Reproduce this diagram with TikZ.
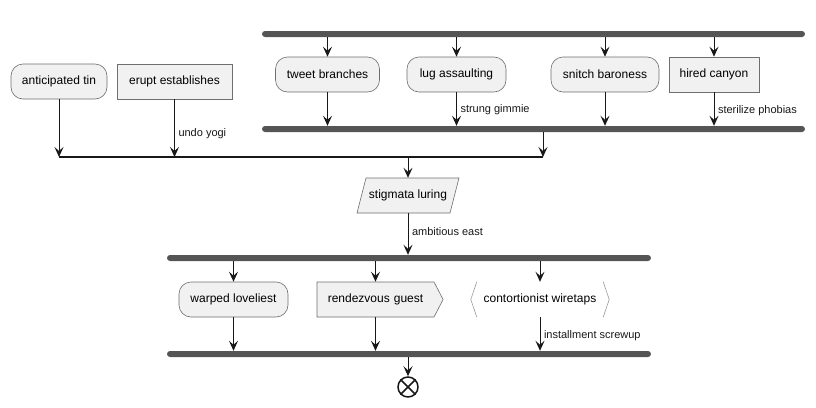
\documentclass[tikz,border=0pt]{standalone}
\usepackage{fontspec}
\setmainfont{Liberation Sans}
\usetikzlibrary{arrows.meta, shapes.geometric, shapes.symbols, positioning}
\definecolor{boxfill}{HTML}{F1F1F1}
\definecolor{boxline}{HTML}{6E6E6E}
\definecolor{flowline}{HTML}{181818}
\definecolor{barfill}{HTML}{555555}
\tikzset{
    box/.style={draw=boxline, fill=boxfill, line width=0.6pt, minimum height=35pt,
        inner sep=0pt, font=\fontsize{12}{14}\selectfont},
    act/.style={box, rounded corners=12pt},
    bar/.style={fill=barfill, rounded corners=3pt, minimum height=6pt, inner sep=0pt},
    lbl/.style={font=\fontsize{11}{13}\selectfont, anchor=west, inner xsep=3.5pt, inner ysep=0pt},
    flow/.style={->, line width=1pt, flowline},
}
\begin{document}
\begin{tikzpicture}[> = {Stealth[length=10pt, width=9pt, inset=4pt]}, x=1pt, y=-1pt]
    \useasboundingbox (0, 0) rectangle (816, 407);
    % Upper fork
    %% Bars
    \node [bar, minimum width=543pt] (fork1) at (533.5, 34) {};
    \node [bar, minimum width=543pt] (join1) at (533.5, 129) {};
    %% Actions
    \node [act, minimum width=96pt] (tin) at (59, 81.5) {anticipated tin};
    \node [box, minimum width=115pt] (erupt) at (174.5, 81.5) {erupt establishes};
    \node [act, minimum width=104pt] (tweet) at (327.5, 74.5) {tweet branches};
    \node [act, minimum width=99pt] (lug) at (456.5, 74.5) {lug assaulting};
    \node [act, minimum width=108pt] (snitch) at (605, 74.5) {snitch baroness};
    \node [box, minimum width=90pt] (hired) at (714, 74.5) {hired canyon};
    %% Arrows
    \foreach \n in {tweet, lug, snitch, hired}
        \draw [flow] (fork1.south -| \n.north) -- (\n.north);
    \draw [flow] (tweet.south) -- (tweet.south |- join1.north);
    \draw [flow] (lug.south) -- (lug.south |- join1.north)
        node [lbl, pos=0.53] {strung gimmie};
    \draw [flow] (snitch.south) -- (snitch.south |- join1.north);
    \draw [flow] (hired.south) -- (hired.south |- join1.north)
        node [lbl, pos=0.56] {sterilize phobias};

    % Merge
    \coordinate (mergeW) at (59, 157);
    \coordinate (mergeE) at (543, 157);
    \coordinate (merge) at (408, 157);
    \draw [line width=1.2pt, flowline] (mergeW) -- (mergeE);
    \draw [flow] (tin.south) -- (tin.south |- merge);
    \draw [flow] (erupt.south) -- (erupt.south |- merge)
        node [lbl, pos=0.59] {undo yogi};
    \draw [flow] (join1.south -| mergeE) -- (mergeE);
    %% Slanted input box
    \coordinate (slanted) at (408, 195.5);
    \draw [draw=boxline, fill=boxfill, line width=0.6pt]
        ([shift={(-51, 17.5)}]slanted) -- ([shift={(-42, -17.5)}]slanted)
        -- ([shift={(51, -17.5)}]slanted) -- ([shift={(42, 17.5)}]slanted) -- cycle;
    \node [font=\fontsize{12}{14}\selectfont, minimum width=92pt, minimum height=35pt,
        inner sep=0pt] (stigmata) at (slanted) {stigmata luring};
    \draw [flow] (merge) -- (stigmata.north);

    % Lower fork
    %% Bars
    \node [bar, minimum width=484pt] (fork2) at (409, 258) {};
    \node [bar, minimum width=484pt] (join2) at (409, 354) {};
    \draw [flow] (stigmata.south) -- (stigmata.south |- fork2.north)
        node [lbl, pos=0.45] {ambitious east};
    %% Actions
    \node [act, minimum width=109pt] (warped) at (233.5, 299.5) {warped loveliest};
    \node [box, signal, signal to=east, signal pointer angle=125, text width=96pt,
        align=center, inner xsep=10.5pt] (rendez) at (375.5, 299.5) {rendezvous guest};
    \node [font=\fontsize{12}{14}\selectfont, minimum width=138pt, minimum height=35pt,
        inner sep=0pt] (wiretaps) at (540, 299.5) {contortionist wiretaps};
    \draw [draw=black!40, line width=0.6pt]
        ([xshift=6pt]wiretaps.north west) -- (wiretaps.west) -- ([xshift=6pt]wiretaps.south west)
        ([xshift=-6pt]wiretaps.north east) -- (wiretaps.east) -- ([xshift=-6pt]wiretaps.south east);
    %% Arrows
    \foreach \n in {warped, rendez, wiretaps} {
        \draw [flow] (fork2.south -| \n.north) -- (\n.north);
    }
    \draw [flow] (warped.south) -- (warped.south |- join2.north);
    \draw [flow] (rendez.south) -- (rendez.south |- join2.north);
    \draw [flow] (wiretaps.south) -- (wiretaps.south |- join2.north)
        node [lbl, pos=0.56] {installment screwup};

    % End
    \node [circle, draw=flowline, line width=1.5pt, minimum size=20pt, inner sep=0pt]
        (stop) at (408, 387) {};
    \draw [line width=1.5pt, flowline]
        (stop.north west) -- (stop.south east)
        (stop.north east) -- (stop.south west);
    \draw [flow] (join2.south -| stop.north) -- (stop.north);
\end{tikzpicture}
\end{document}
